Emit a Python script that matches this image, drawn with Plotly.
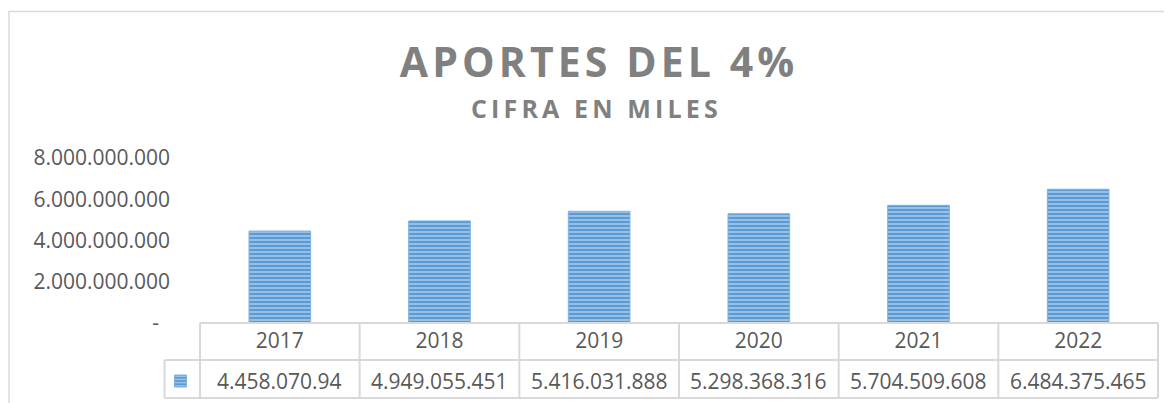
import plotly.graph_objects as go

# Data
years = ["2017", "2018", "2019", "2020", "2021", "2022"]
aportes = [4458070940, 4949055451, 5416031888, 5298368316, 5704509608, 6484375465]
value_labels = ["4.458.070.94", "4.949.055.451", "5.416.031.888",
                "5.298.368.316", "5.704.509.608", "6.484.375.465"]
y_tickvals = [0, 2000000000, 4000000000, 6000000000, 8000000000]
y_ticktext = ["-\u00a0\u00a0", "2.000.000.000", "4.000.000.000",
              "6.000.000.000", "8.000.000.000"]

TEXT_GREY = "#595959"
TITLE_GREY = "#808080"
BAR_BLUE = "#5b9bd5"
LINE_GREY = "#d9d9d9"
FONT = "Open Sans"

# the page body has an 8px margin, so the figure starts at (8, 8) of the window
OFF = 8
W, H = 1172 - OFF, 403 - OFF
# plot area in window pixels
PLOT_L, PLOT_R = 199.5, 1157.7
PLOT_T, PLOT_B = 158, 323
plot_w = PLOT_R - PLOT_L
plot_h = PLOT_B - PLOT_T


def px_x(px):
    return (px - PLOT_L) / plot_w


def px_y(py):
    return (PLOT_B - py) / plot_h


def spaced(text, gap="\u2009"):
    # wide letter spacing like the original title
    return gap.join(list(text))


# striped bars: blue fill with thin light horizontal lines on top
fig = go.Figure(
    go.Bar(
        x=years,
        y=aportes,
        width=0.386,
        name=" ",
        marker=dict(
            color=BAR_BLUE,
            line=dict(color="#7fb0df", width=1),
            pattern=dict(shape="-", size=4, solidity=0.45,
                         fgcolor="#e4eef8", bgcolor=BAR_BLUE),
        ),
        showlegend=True,
        hoverinfo="skip",
    )
)

# table grid under the plot (header row with years, value row)
row1 = px_y(360)
row2 = px_y(398)
key_left = px_x(164)
shapes = [
    dict(type="line", xref="paper", yref="paper", x0=0, x1=1, y0=0, y1=0),
    dict(type="line", xref="paper", yref="paper", x0=key_left, x1=1, y0=row1, y1=row1),
    dict(type="line", xref="paper", yref="paper", x0=key_left, x1=1, y0=row2, y1=row2),
    dict(type="line", xref="paper", yref="paper", x0=key_left, x1=key_left, y0=row1, y1=row2),
]
for i in range(len(years) + 1):
    xb = i / len(years)
    shapes.append(dict(type="line", xref="paper", yref="paper",
                       x0=xb, x1=xb, y0=0, y1=row2))
for s in shapes:
    s["line"] = dict(color=LINE_GREY, width=2)

# outer chart border
shapes.append(dict(type="rect", xref="paper", yref="paper",
                   x0=px_x(8.5), x1=px_x(1190), y0=px_y(11.5), y1=px_y(420),
                   line=dict(color=LINE_GREY, width=1.5), layer="below"))

annotations = []
for i, lab in enumerate(value_labels):
    annotations.append(dict(
        x=i, xref="x", y=px_y(381), yref="paper", yanchor="middle",
        text=lab, showarrow=False,
        font=dict(family=FONT, size=21, color=TEXT_GREY),
    ))

# subtitle
annotations.append(dict(
    x=px_x(594), xref="paper", y=px_y(108), yref="paper",
    text=spaced("CIFRA EN MILES"), showarrow=False, yanchor="middle",
    font=dict(family=FONT, size=25, color=TITLE_GREY, weight="bold"),
))

fig.update_layout(
    width=W,
    height=H,
    margin=dict(l=PLOT_L - OFF, r=1172 - PLOT_R, t=PLOT_T - OFF, b=403 - PLOT_B,
                pad=0, autoexpand=False),
    paper_bgcolor="white",
    plot_bgcolor="white",
    separators=",.",
    title=dict(
        text=spaced("APORTES DEL 4%", "\u200a"),
        x=(597 - OFF) / W, xanchor="center", xref="container",
        y=1 - (63 - OFF) / H, yanchor="middle",
        font=dict(family=FONT, size=41, color=TITLE_GREY, weight="bold"),
    ),
    xaxis=dict(
        type="category",
        range=[-0.5, 5.5],
        showgrid=False, zeroline=False, showline=False,
        ticks="", ticklabelstandoff=3,
        tickfont=dict(family=FONT, size=21, color=TEXT_GREY),
    ),
    yaxis=dict(
        range=[0, 8000000000],
        tickvals=y_tickvals, ticktext=y_ticktext,
        showgrid=False, zeroline=False, showline=False,
        ticks="", ticklabelstandoff=29,
        tickfont=dict(family=FONT, size=21, color=TEXT_GREY),
    ),
    legend=dict(
        x=px_x(160), xanchor="left", y=px_y(381), yanchor="middle",
        bgcolor="rgba(0,0,0,0)", borderwidth=0,
        font=dict(family=FONT, size=12, color=TEXT_GREY),
        itemwidth=30,
    ),
    shapes=shapes,
    annotations=annotations,
    showlegend=True,
)

fig.write_html("out.html")
